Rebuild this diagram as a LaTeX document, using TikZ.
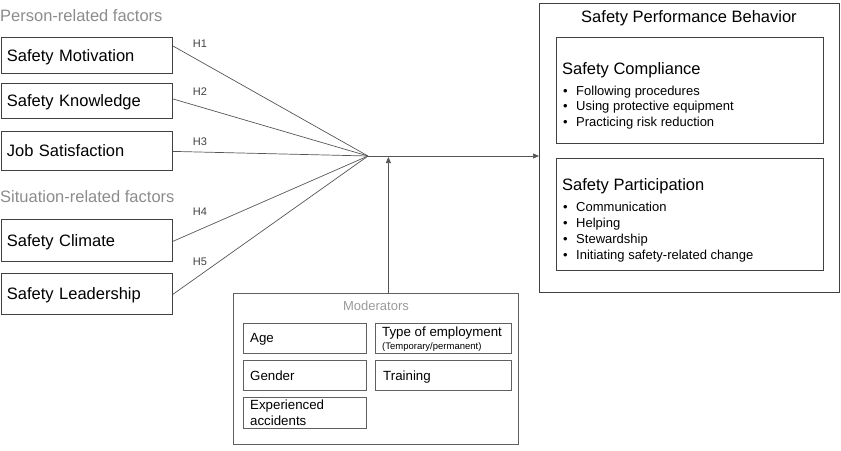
\documentclass[tikz,border=0pt]{standalone}
\usepackage{fontspec}
\setmainfont{Liberation Sans}
\usetikzlibrary{calc,arrows.meta}

\definecolor{boxline}{HTML}{404040}
\definecolor{conn}{HTML}{555555}
\definecolor{grouptxt}{HTML}{8C8C8C}
\definecolor{modtxt}{HTML}{9A9A9A}
\definecolor{modline}{HTML}{606060}

\begin{document}
\begin{tikzpicture}[x=1pt,y=-1pt,
  factor/.style={draw=boxline, line width=0.8pt, minimum height=#1,
    anchor=north west, inner xsep=5.5pt, inner ysep=0pt, text width=160pt,
    text depth=0pt, align=left, font=\fontsize{16.5}{19}\selectfont},
  plainbox/.style={draw=boxline, line width=0.8pt, anchor=north west, inner sep=0pt},
  modbox/.style={draw=modline, line width=0.8pt, anchor=north west, inner sep=0pt},
  grouphead/.style={anchor=west, inner sep=0pt, text=grouptxt, font=\fontsize{16.5}{19}\selectfont},
  hyp/.style={font=\fontsize{11}{13}\selectfont, text=boxline, inner sep=0pt},
  head/.style={anchor=base west, inner sep=0pt, font=\fontsize{16.5}{19}\selectfont},
  items/.style={anchor=base west, inner sep=0pt, font=\fontsize{13}{15.8}\selectfont},
  modtext/.style={anchor=west, inner sep=0pt, align=left, font=\fontsize{13.3}{16}\selectfont},
  link/.style={draw=conn, line width=0.7pt},
  arrow/.style={link, -{Triangle[length=6pt,width=5pt]}}
]
\useasboundingbox (0,0) rectangle (841,450);

% group headings
\node[grouphead] (person) at (0,16) {Person-related factors};
\node[grouphead] (situation) at (0,197) {Situation-related factors};

% antecedent factors
\node[factor=36pt] (mot) at (1,37) {Safety Motivation};
\node[factor=35pt] (know) at (1,83) {Safety Knowledge};
\node[factor=39pt] (job) at (1,131) {Job Satisfaction};
\node[factor=42pt] (clim) at (1,219) {Safety Climate};
\node[factor=41pt] (lead) at (1,273) {Safety Leadership};

% hypotheses
\coordinate (hub) at (368,156);
\draw[link] ([yshift=9.5pt]mot.east) -- (hub);
\draw[link] ([yshift=2pt]know.east) -- (hub);
\draw[link] ([yshift=-0.5pt]job.east) -- (hub);
\draw[link] ([yshift=-1pt]clim.east) -- (hub);
\draw[link] ([yshift=-0.5pt]lead.east) -- (hub);
\node[hyp] (h1) at (200,44) {H1};
\node[hyp] (h2) at (200,92) {H2};
\node[hyp] (h3) at (200,142) {H3};
\node[hyp] (h4) at (200,212) {H4};
\node[hyp] (h5) at (200,262) {H5};

% outcome
\node[plainbox, minimum width=300pt, minimum height=289pt] (spb) at (539,3) {};
\node[anchor=base, inner sep=0pt, font=\fontsize{16.5}{19}\selectfont] (spbtitle) at (689,22) {Safety Performance Behavior};

\node[plainbox, minimum width=267pt, minimum height=106pt] (comp) at (556,37) {};
\node[head] (comphead) at (562,74) {Safety Compliance};
\node[items] (compitems) at (563,95) {\begin{tabular}[t]{@{}l@{\hspace{8.5pt}}l@{}}
  • & Following procedures\\
  • & Using protective equipment\\
  • & Practicing risk reduction
\end{tabular}};

\node[plainbox, minimum width=267pt, minimum height=112pt] (part) at (556,158) {};
\node[head] (parthead) at (562,190) {Safety Participation};
\node[items, font=\fontsize{13}{16}\selectfont] (partitems) at (563,211) {\begin{tabular}[t]{@{}l@{\hspace{8.5pt}}l@{}}
  • & Communication\\
  • & Helping\\
  • & Stewardship\\
  • & Initiating safety-related change
\end{tabular}};

\draw[arrow] (hub) -- (hub -| spb.west);

% moderators
\node[modbox, minimum width=285pt, minimum height=151pt] (mod) at (233,293) {};
\node[anchor=base, inner sep=0pt, text=modtxt, font=\fontsize{13}{16}\selectfont] (modtitle) at (376,310) {Moderators};
\node[modbox, minimum width=123pt, minimum height=30pt] (age) at (243,323) {};
\node[modbox, minimum width=136pt, minimum height=30pt] (type) at (375,323) {};
\node[modbox, minimum width=123pt, minimum height=30pt] (gender) at (243,360) {};
\node[modbox, minimum width=136pt, minimum height=30pt] (train) at (375,360) {};
\node[modbox, minimum width=123pt, minimum height=31pt] (exp) at (243,397) {};

\node[modtext, text depth=0pt] (agetxt) at ([xshift=7pt]age.west) {Age};
\node[modtext] (typetxt) at ([xshift=7pt,yshift=-0.5pt]type.west) {Type of employment\\[-3pt]{\fontsize{9.5}{11}\selectfont (Temporary/permanent)}};
\node[modtext, text depth=0pt] (gendertxt) at ([xshift=7pt]gender.west) {Gender};
\node[modtext, text depth=0pt] (traintxt) at ([xshift=8pt]train.west) {Training};
\node[modtext] (exptxt) at ([xshift=7pt]exp.west) {Experienced\\accidents};

\draw[arrow] ([xshift=12.5pt]mod.north) -- ([xshift=12.5pt,yshift=-1pt]mod.north |- hub);
\end{tikzpicture}
\end{document}
